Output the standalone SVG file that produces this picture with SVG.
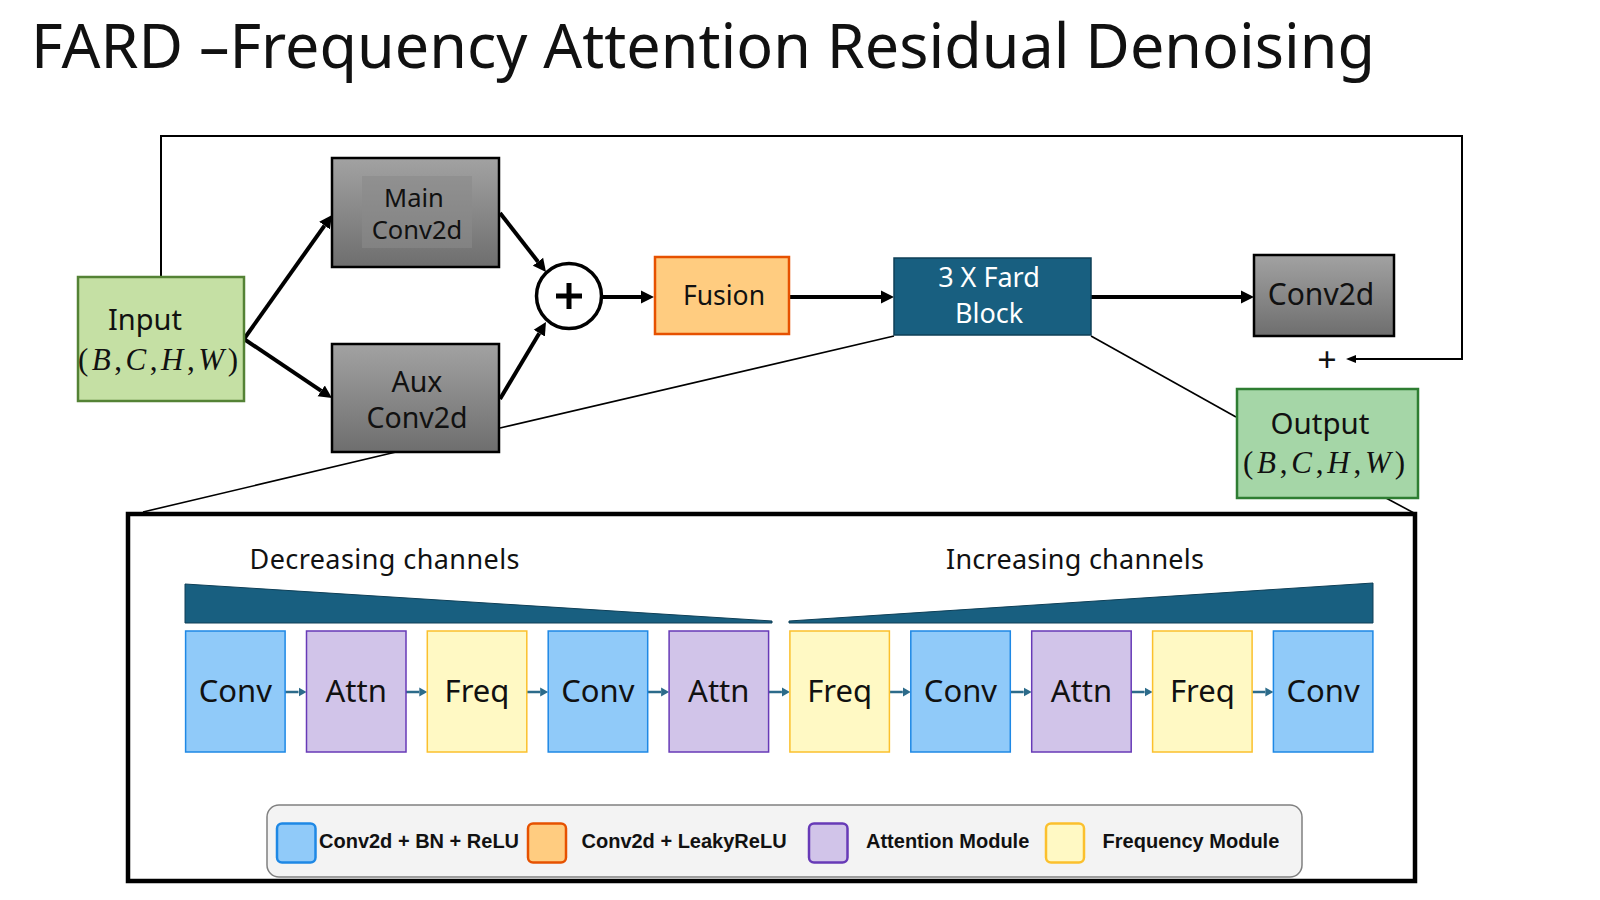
<svg xmlns="http://www.w3.org/2000/svg" width="1600" height="900" viewBox="0 0 1600 900">
<defs>
<linearGradient id="gray" x1="0" y1="0" x2="0" y2="1">
<stop offset="0" stop-color="#A2A2A2"/>
<stop offset="1" stop-color="#6E6E6E"/>
</linearGradient>
<marker id="ah" markerUnits="userSpaceOnUse" markerWidth="14" markerHeight="14" refX="0" refY="7" orient="auto">
<path d="M0,0.5 L13,7 L0,13.5 z" fill="#000"/>
</marker>
<marker id="ahs" markerUnits="userSpaceOnUse" markerWidth="11" markerHeight="10" refX="0" refY="5" orient="auto">
<path d="M0,1 L10,5 L0,9 z" fill="#000"/>
</marker>
<marker id="aht" markerUnits="userSpaceOnUse" markerWidth="9" markerHeight="10" refX="0" refY="5" orient="auto">
<path d="M0,0.5 L8,5 L0,9.5 z" fill="#2C6B8A"/>
</marker>
</defs>
<style>
.t{font-family:"Noto Sans","Liberation Sans",sans-serif;fill:#111;}
.m{font-family:"Liberation Serif",serif;fill:#111;}
.lg{font-family:"Liberation Sans",Arial,sans-serif;font-weight:bold;font-size:20px;fill:#111;}
.big{stroke:#000;stroke-width:4;fill:none;}
.thin{stroke:#000;stroke-width:1.6;fill:none;}
.skip{stroke:#000;stroke-width:2;fill:none;}
.small{stroke:#2C6B8A;stroke-width:2.5;fill:none;}
.gray{fill:url(#gray);stroke:#000;stroke-width:2.5;}
.conv{fill:#90CAF9;stroke:#1E88E5;stroke-width:1.5;}
.attn{fill:#D1C4E9;stroke:#673AB7;stroke-width:1.5;}
.freq{fill:#FFF9C4;stroke:#FBC02D;stroke-width:1.5;}
.bt{font-family:"Noto Sans","Liberation Sans",sans-serif;font-size:31px;fill:#111;text-anchor:middle;}
</style>
<rect width="1600" height="900" fill="#fff"/>

<text class="t" x="31" y="68" font-size="62" textLength="1344" lengthAdjust="spacingAndGlyphs">FARD –Frequency Attention Residual Denoising</text>

<g id="connectors">
<path class="skip" d="M161,277 V136 H1462 V359 H1356" marker-end="url(#ahs)"/>
<line class="big" x1="244" y1="339" x2="324.5" y2="225.6" marker-end="url(#ah)"/>
<line class="big" x1="244" y1="339" x2="321.2" y2="390.8" marker-end="url(#ah)"/>
<line class="big" x1="500" y1="213" x2="538" y2="261.7" marker-end="url(#ah)"/>
<line class="big" x1="500" y1="399" x2="539.3" y2="333.2" marker-end="url(#ah)"/>
<line class="big" x1="603" y1="297" x2="641" y2="297" marker-end="url(#ah)"/>
<line class="big" x1="790" y1="297" x2="881" y2="297" marker-end="url(#ah)"/>
<line class="big" x1="1091" y1="297" x2="1241" y2="297" marker-end="url(#ah)"/>
<line class="thin" x1="894" y1="336" x2="500" y2="428"/>
<line class="thin" x1="396" y1="452" x2="143" y2="512"/>
<line class="thin" x1="1091" y1="336" x2="1236" y2="417"/>
<line class="thin" x1="1386" y1="498" x2="1414" y2="513"/>
<line class="small" x1="285.1" y1="692" x2="298.5" y2="692" marker-end="url(#aht)"/>
<line class="small" x1="406" y1="692" x2="419.3" y2="692" marker-end="url(#aht)"/>
<line class="small" x1="526.8" y1="692" x2="540.2" y2="692" marker-end="url(#aht)"/>
<line class="small" x1="647.7" y1="692" x2="661.1" y2="692" marker-end="url(#aht)"/>
<line class="small" x1="768.6" y1="692" x2="781.9" y2="692" marker-end="url(#aht)"/>
<line class="small" x1="889.4" y1="692" x2="902.8" y2="692" marker-end="url(#aht)"/>
<line class="small" x1="1010.3" y1="692" x2="1023.7" y2="692" marker-end="url(#aht)"/>
<line class="small" x1="1131.2" y1="692" x2="1144.6" y2="692" marker-end="url(#aht)"/>
<line class="small" x1="1252.1" y1="692" x2="1265.4" y2="692" marker-end="url(#aht)"/>
</g>

<g id="input">
<rect x="78" y="277" width="166" height="124" fill="#C5E0A4" stroke="#548235" stroke-width="2.5"/>
<text class="t" x="145" y="330" font-size="29" text-anchor="middle">Input</text>
<text class="m" x="78" y="370" font-size="31" textLength="160">(<tspan font-style="italic">B</tspan>,<tspan font-style="italic">C</tspan>,<tspan font-style="italic">H</tspan>,<tspan font-style="italic">W</tspan>)</text>
</g>

<g id="main-conv2d">
<rect class="gray" x="332" y="158" width="167" height="109"/>
<rect x="362" y="176" width="110" height="72" fill="#8A8A8A" opacity="0.6"/>
<text class="t" x="414" y="207" font-size="25.5" text-anchor="middle">Main</text>
<text class="t" x="417" y="239" font-size="25.5" text-anchor="middle">Conv2d</text>
</g>

<g id="aux-conv2d">
<rect class="gray" x="332" y="344" width="167" height="108"/>
<text class="t" x="417" y="392" font-size="28.5" text-anchor="middle">Aux</text>
<text class="t" x="417" y="428" font-size="28.5" text-anchor="middle">Conv2d</text>
</g>

<g id="add">
<circle cx="569" cy="296" r="32.5" fill="#fff" stroke="#000" stroke-width="3.5"/>
<path d="M556,296 H582 M569,283 V309" stroke="#000" stroke-width="5"/>
</g>

<g id="fusion">
<rect x="655" y="257" width="134" height="77" fill="#FFCC80" stroke="#E65100" stroke-width="2.5"/>
<text class="t" x="724" y="305" font-size="26.5" text-anchor="middle">Fusion</text>
</g>

<g id="fard-block">
<rect x="894" y="258" width="197" height="77" fill="#185F80" stroke="#0E3F57" stroke-width="1.5"/>
<text class="t" x="989" y="287" font-size="27" text-anchor="middle" style="fill:#fff">3 X Fard</text>
<text class="t" x="989" y="323" font-size="27" text-anchor="middle" style="fill:#fff">Block</text>
</g>

<g id="conv2d-out">
<rect class="gray" x="1254" y="255" width="140" height="81"/>
<text class="t" x="1321" y="305" font-size="30" text-anchor="middle">Conv2d</text>
</g>

<g id="plus-label">
<text class="t" x="1327" y="372" font-size="34" text-anchor="middle">+</text>
</g>

<g id="output">
<rect x="1237" y="389" width="181" height="109" fill="#A5D6A7" stroke="#2E7D32" stroke-width="2.5"/>
<text class="t" x="1320" y="434" font-size="29.5" text-anchor="middle">Output</text>
<text class="m" x="1243" y="473" font-size="31" textLength="162">(<tspan font-style="italic">B</tspan>,<tspan font-style="italic">C</tspan>,<tspan font-style="italic">H</tspan>,<tspan font-style="italic">W</tspan>)</text>
</g>

<g id="fard-detail">
<rect x="128" y="514" width="1287" height="367" fill="none" stroke="#000" stroke-width="4.5"/>
<text class="t" x="249.5" y="569" font-size="27" textLength="270">Decreasing channels</text>
<text class="t" x="946" y="569" font-size="27" textLength="258">Increasing channels</text>
<polygon points="185,584 772,621 772,623 185,623" fill="#185F80" stroke="#0E3F57" stroke-width="1"/>
<polygon points="789,621 1373,583 1373,623 789,623" fill="#185F80" stroke="#0E3F57" stroke-width="1"/>
</g>

<g id="b1"><rect class="conv" x="185.6" y="631" width="99.5" height="121"/><text class="bt" x="235.3" y="702">Conv</text></g>
<g id="b2"><rect class="attn" x="306.5" y="631" width="99.5" height="121"/><text class="bt" x="356.2" y="702">Attn</text></g>
<g id="b3"><rect class="freq" x="427.3" y="631" width="99.5" height="121"/><text class="bt" x="477" y="702">Freq</text></g>
<g id="b4"><rect class="conv" x="548.2" y="631" width="99.5" height="121"/><text class="bt" x="597.9" y="702">Conv</text></g>
<g id="b5"><rect class="attn" x="669.1" y="631" width="99.5" height="121"/><text class="bt" x="718.8" y="702">Attn</text></g>
<g id="b6"><rect class="freq" x="789.9" y="631" width="99.5" height="121"/><text class="bt" x="839.6" y="702">Freq</text></g>
<g id="b7"><rect class="conv" x="910.8" y="631" width="99.5" height="121"/><text class="bt" x="960.5" y="702">Conv</text></g>
<g id="b8"><rect class="attn" x="1031.7" y="631" width="99.5" height="121"/><text class="bt" x="1081.4" y="702">Attn</text></g>
<g id="b9"><rect class="freq" x="1152.6" y="631" width="99.5" height="121"/><text class="bt" x="1202.3" y="702">Freq</text></g>
<g id="b10"><rect class="conv" x="1273.4" y="631" width="99.5" height="121"/><text class="bt" x="1323.1" y="702">Conv</text></g>

<g id="legend">
<rect x="267" y="805" width="1035" height="72" rx="12" fill="#F3F3F3" stroke="#808080" stroke-width="1.5"/>
<rect x="277" y="823.5" width="38.5" height="39" rx="5" fill="#90CAF9" stroke="#1E88E5" stroke-width="2.5"/>
<text class="lg" x="319" y="847.5">Conv2d + BN + ReLU</text>
<rect x="528" y="823.5" width="38" height="39" rx="5" fill="#FFCC80" stroke="#E65100" stroke-width="2.5"/>
<text class="lg" x="581.5" y="847.5">Conv2d + LeakyReLU</text>
<rect x="809" y="823.5" width="38.5" height="39" rx="5" fill="#D1C4E9" stroke="#673AB7" stroke-width="2.5"/>
<text class="lg" x="866" y="847.5">Attention Module</text>
<rect x="1046" y="823.5" width="38" height="39" rx="5" fill="#FFF9C4" stroke="#FBC02D" stroke-width="2.5"/>
<text class="lg" x="1102.6" y="847.5">Frequency Module</text>
</g>
</svg>
